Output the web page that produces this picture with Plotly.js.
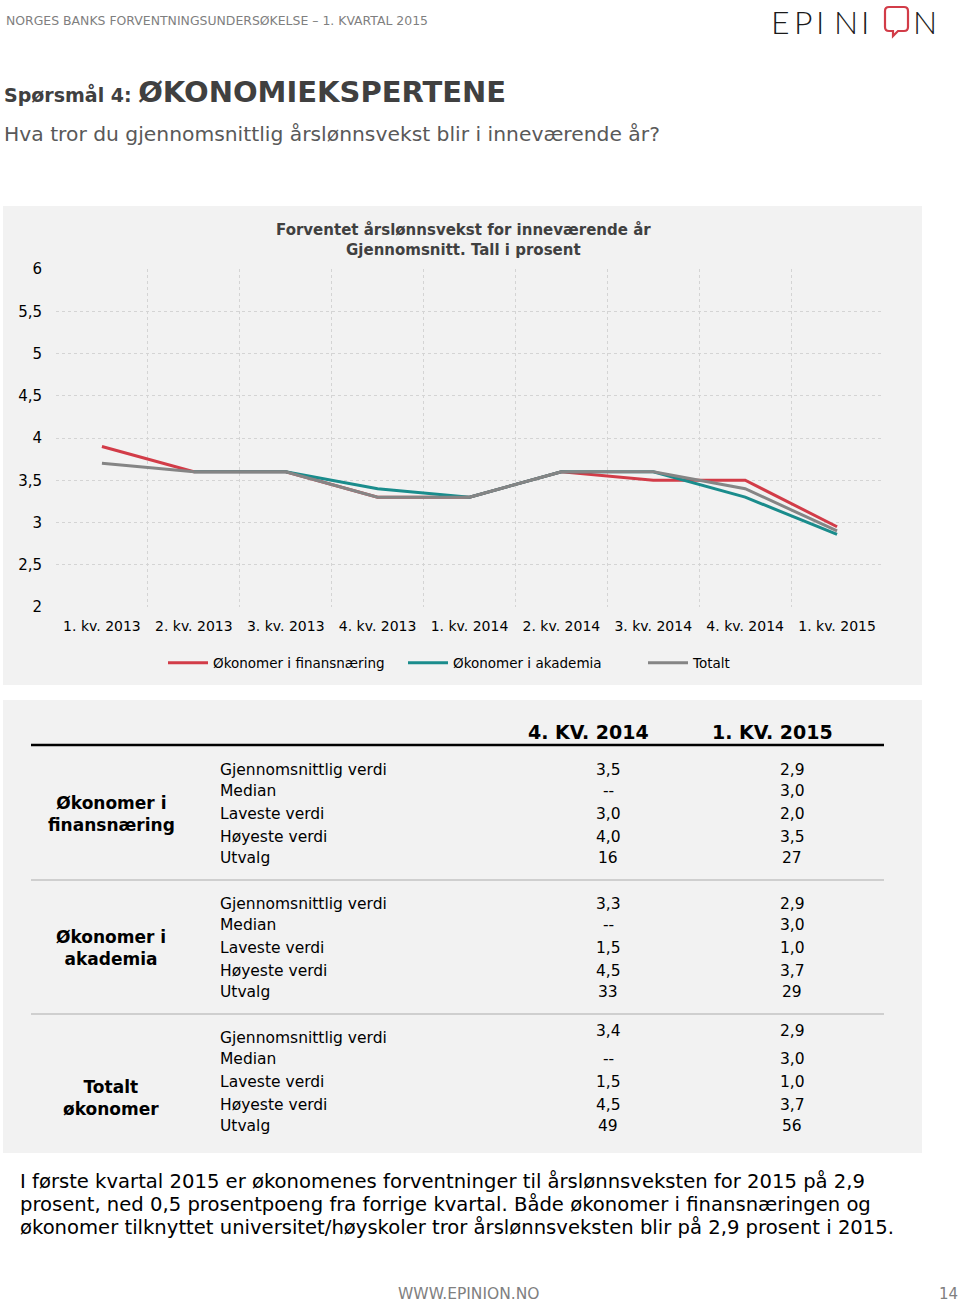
<!DOCTYPE html>
<html><head><meta charset="utf-8">
<script src="https://cdn.plot.ly/plotly-3.0.1.min.js"></script>
<style>html,body{margin:0;padding:0;background:#fff;} #chart{width:960px;height:1305px;}</style>
</head><body><div id="chart"></div>
<script>
// ---------- data ----------
const categories = ['1. kv. 2013','2. kv. 2013','3. kv. 2013','4. kv. 2013','1. kv. 2014','2. kv. 2014','3. kv. 2014','4. kv. 2014','1. kv. 2015'];
const finans   = [3.9, 3.6, 3.6, 3.3, 3.3, 3.6, 3.5, 3.5, 2.95];
const akademia = [null, 3.6, 3.6, 3.4, 3.3, 3.6, 3.6, 3.3, 2.86];
const totalt   = [3.7, 3.6, 3.6, 3.3, 3.3, 3.6, 3.6, 3.4, 2.9];
const seriesNames = ['Økonomer i finansnæring','Økonomer i akademia','Totalt'];

const tableColumns = ['4. KV. 2014','1. KV. 2015'];
const tableGroups = ['Økonomer i<br>finansnæring','Økonomer i<br>akademia','Totalt<br>økonomer'];
const rowLabels = ['Gjennomsnittlig verdi','Median','Laveste verdi','Høyeste verdi','Utvalg'];
const finansQ4   = ['3,5','--','3,0','4,0','16'];
const finansQ1   = ['2,9','3,0','2,0','3,5','27'];
const akademiaQ4 = ['3,3','--','1,5','4,5','33'];
const akademiaQ1 = ['2,9','3,0','1,0','3,7','29'];
const totaltQ4   = ['3,4','--','1,5','4,5','49'];
const totaltQ1   = ['2,9','3,0','1,0','3,7','56'];

const headerText = 'NORGES BANKS FORVENTNINGSUNDERSØKELSE – 1. KVARTAL 2015';
const questionNo = 'Spørsmål 4: ';
const questionTitle = 'ØKONOMIEKSPERTENE';
const questionText = 'Hva tror du gjennomsnittlig årslønnsvekst blir i inneværende år?';
const chartTitle = ['Forventet årslønnsvekst for inneværende år','Gjennomsnitt. Tall i prosent'];
const paragraph = ['I første kvartal 2015 er økonomenes forventninger til årslønnsveksten for 2015 på 2,9',
  'prosent, ned 0,5 prosentpoeng fra forrige kvartal. Både økonomer i finansnæringen og',
  'økonomer tilknyttet universitet/høyskoler tror årslønnsveksten blir på 2,9 prosent i 2015.'];
const footerText = 'WWW.EPINION.NO';
const pageNo = '14';

// ---------- layout helpers ----------
const W = 960, H = 1305;
const X = p => p / W;
const Y = p => 1 - p / H;
const FONT = 'DejaVu Sans, Verdana, sans-serif';
function txt(x, y, text, size, opts) {
  opts = opts || {};
  return {xref:'paper', yref:'paper', x:X(x), y:Y(y), text:text, showarrow:false,
    xanchor: opts.xanchor || 'left', yanchor: opts.yanchor || 'middle', align: opts.align || (opts.xanchor || 'left'),
    font:{family: opts.family || FONT, size:size, color: opts.color || '#000', weight: opts.weight},
  };
}

const colors = ['#d23c48', '#1a8c8c', '#858585'];
const seriesData = [finans, akademia, totalt];
const traces = seriesData.map((ys, i) => ({
  type:'scatter', mode:'lines', x:categories, y:ys, name:seriesNames[i],
  line:{color:colors[i], width:3}, connectgaps:false, hoverinfo:'skip'
}));

const annotations = [];
const shapes = [];

// header
annotations.push(txt(4, 20, headerText, 12.45, {color:'#7f7f7f'}));
// logo
const logoLetters = [['E',780.5],['P',803],['I',820],['N',846],['I',865],['N',925]];
logoLetters.forEach(([l, x]) => annotations.push(txt(x, 0, l, 32, {xanchor:'center', yanchor:'top', family:'Lato, DejaVu Sans, sans-serif', color:'#1a1a1a', weight:300})));
shapes.push({type:'path', xref:'paper', yref:'paper', line:{color:'#d23c48', width:2.2},
  path:`M${X(889)},${Y(7)} L${X(904)},${Y(7)} Q${X(908)},${Y(7)} ${X(908)},${Y(11)} L${X(908)},${Y(27)} Q${X(908)},${Y(31)} ${X(904)},${Y(31)} L${X(898)},${Y(31)} L${X(893)},${Y(36)} L${X(893)},${Y(31)} L${X(889)},${Y(31)} Q${X(885)},${Y(31)} ${X(885)},${Y(27)} L${X(885)},${Y(11)} Q${X(885)},${Y(7)} ${X(889)},${Y(7)} Z`});

// question title
annotations.push(txt(2, 92, `<b><span style="font-size:19px">${questionNo}</span>${questionTitle}</b>`, 29, {color:'#404040'}));
annotations.push(txt(2, 134, questionText, 20.3, {color:'#595959'}));

// chart panel
shapes.push({type:'rect', xref:'paper', yref:'paper', x0:X(3), x1:X(922), y0:Y(206), y1:Y(685), fillcolor:'#f2f2f2', line:{width:0}, layer:'below'});
annotations.push(txt(463, 240, chartTitle.map(s => `<b>${s}</b>`).join('<br>'), 15, {xanchor:'center', color:'#404040'}));

// table panel
shapes.push({type:'rect', xref:'paper', yref:'paper', x0:X(3), x1:X(922), y0:Y(700), y1:Y(1153), fillcolor:'#f2f2f2', line:{width:0}, layer:'below'});
shapes.push({type:'line', xref:'paper', yref:'paper', x0:X(31), x1:X(884), y0:Y(745), y1:Y(745), line:{color:'#000', width:2.5}});
[880, 1014].forEach(yy => shapes.push({type:'line', xref:'paper', yref:'paper', x0:X(31), x1:X(884), y0:Y(yy), y1:Y(yy), line:{color:'#cfcfcf', width:2}}));

const colX = [608, 792];
const headX = [588, 772];
tableColumns.forEach((c, i) => annotations.push(txt(headX[i], 732, `<b>${c}</b>`, 19, {xanchor:'center'})));

const groupBases = [770, 904, 1038];
const groupLabelY = [814, 948, 1098];
const rowOffsets = [0, 21, 44, 67, 88];
const groupValues = [[finansQ4, finansQ1], [akademiaQ4, akademiaQ1], [totaltQ4, totaltQ1]];
tableGroups.forEach((g, gi) => {
  annotations.push(txt(111, groupLabelY[gi], `<b>${g}</b>`, 17, {xanchor:'center'}));
  rowLabels.forEach((r, ri) => {
    const y = groupBases[gi] + rowOffsets[ri];
    annotations.push(txt(218, y, r, 15.5));
    groupValues[gi].forEach((col, ci) => {
      const vy = (gi === 2 && ri === 0) ? y - 7 : y;
      annotations.push(txt(colX[ci], vy, col[ri], 15.5, {xanchor:'center'}));
    });
  });
});

// paragraph (one annotation per line to keep the original line spacing)
const paraY = [1181, 1204, 1227];
paragraph.forEach((line, i) => annotations.push(txt(18, paraY[i], line, 19.6, {color:'#000'})));
// footer
annotations.push(txt(469, 1305, footerText, 15.5, {xanchor:'center', yanchor:'bottom', color:'#808080'}));
annotations.push(txt(960, 1305, pageNo, 15, {xanchor:'right', yanchor:'bottom', color:'#808080'}));

const layout = {
  width: W, height: H,
  margin:{l:0, r:0, t:0, b:0},
  paper_bgcolor:'#ffffff', plot_bgcolor:'#f2f2f2',
  separators:', ',
  font:{family:FONT, color:'#000'},
  showlegend:true,
  legend:{orientation:'h', x:X(163), y:Y(663), xanchor:'left', yanchor:'middle',
    bgcolor:'rgba(0,0,0,0)', font:{family:FONT, size:13.5, color:'#000'},
    itemwidth:40, entrywidth:185, entrywidthmode:'pixels', itemclick:false, itemdoubleclick:false},
  xaxis:{domain:[X(56), X(883)], type:'category', range:[-0.5, 8.5], tickson:'boundaries',
    showgrid:true, gridcolor:'#d4d4d4', griddash:'dot', gridwidth:1, zeroline:false,
    showline:false, ticks:'', tickfont:{family:FONT, size:14, color:'#000'}, ticklabelstandoff:9, fixedrange:true},
  yaxis:{domain:[Y(607), Y(269)], range:[2, 6], dtick:0.5, tick0:2,
    showgrid:true, gridcolor:'#d4d4d4', griddash:'dot', gridwidth:1, zeroline:false,
    showline:false, ticks:'', tickfont:{family:FONT, size:15, color:'#000'}, ticklabelstandoff:13, fixedrange:true},
  annotations: annotations,
  shapes: shapes
};

Plotly.newPlot('chart', traces, layout, {displayModeBar:false, staticPlot:true});
</script>
</body></html>
